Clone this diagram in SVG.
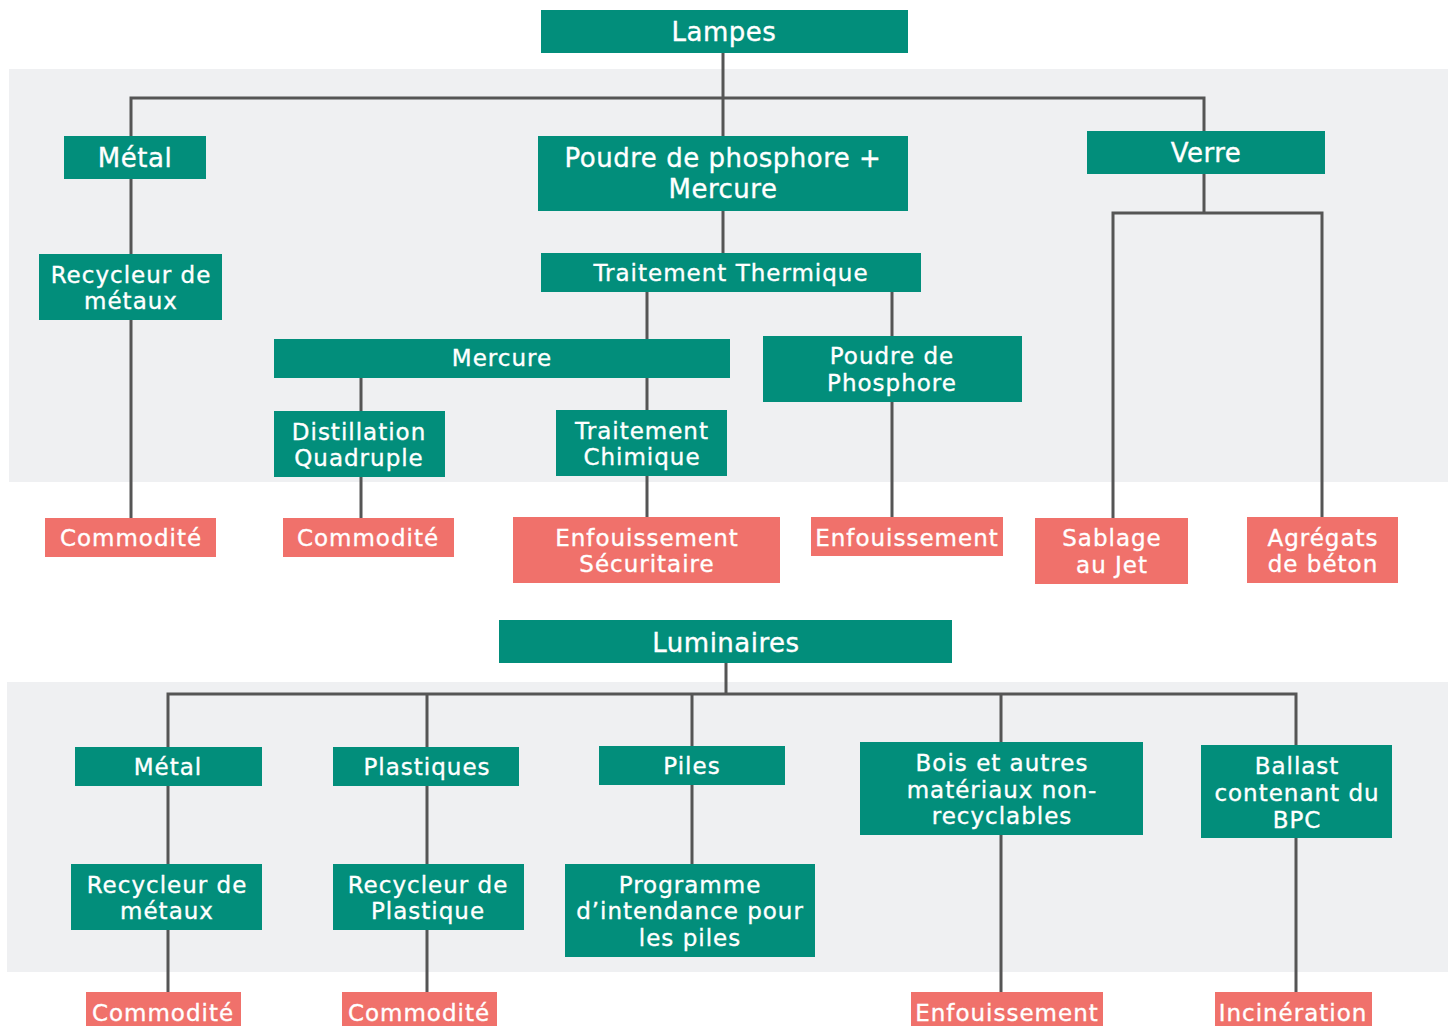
<svg xmlns="http://www.w3.org/2000/svg" width="1455" height="1026" viewBox="0 0 1455 1026">
<style>
.band{fill:#eff0f2}
.g rect{fill:#028e7b}
.r rect{fill:#f0716b}
text{font-family:"DejaVu Sans","Noto Sans",sans-serif;fill:#fff;stroke:#fff;stroke-width:0.35;text-anchor:middle;font-size:23px;letter-spacing:1px}
.big{font-size:26px;letter-spacing:0.5px}
#conn path{stroke:#555;stroke-width:3;fill:none;stroke-linecap:square}
</style>
<rect width="1455" height="1026" fill="#fff"/>
<rect class="band" x="9" y="69" width="1439" height="413"/>
<rect class="band" x="7" y="682" width="1441" height="290"/>
<g id="conn">
<path d="M723,54V136M131,98H1204M131,98V136M1204,98V131M131,180V254M131,320V518M723,211V253M647,292V339M892,292V336M361,378V411M647,378V410M361,477V518M647,476V517M892,402V517M1204,175V213M1113,213H1322M1113,213V518M1322,213V517"/>
<path d="M726,663V694M168,694H1296M168,694V747M427,694V747M692,694V746M1001,694V742M1296,694V745M168,786V864M168,930V992M427,786V864M427,930V992M692,785V864M1001,835V992M1296,838V992"/>
</g>
<g id="lampes" class="g"><rect x="541" y="10" width="367" height="43"/><text class="big" x="724" y="41">Lampes</text></g>
<g id="metal1" class="g"><rect x="64" y="136" width="142" height="43"/><text class="big" x="135" y="167">Métal</text></g>
<g id="poudre-mercure" class="g"><rect x="538" y="136" width="370" height="75"/><text class="big" x="723" y="167">Poudre de phosphore +</text><text class="big" x="723" y="198">Mercure</text></g>
<g id="verre" class="g"><rect x="1087" y="131" width="238" height="43"/><text class="big" x="1206" y="162">Verre</text></g>
<g id="recycleur-metaux1" class="g"><rect x="39" y="254" width="183" height="66"/><text x="131" y="283">Recycleur de</text><text x="131" y="309">métaux</text></g>
<g id="traitement-thermique" class="g"><rect x="541" y="253" width="380" height="39"/><text x="731" y="281">Traitement Thermique</text></g>
<g id="mercure" class="g"><rect x="274" y="339" width="456" height="39"/><text x="502" y="366">Mercure</text></g>
<g id="poudre-phosphore" class="g"><rect x="763" y="336" width="259" height="66"/><text x="892" y="364">Poudre de</text><text x="892" y="391">Phosphore</text></g>
<g id="distillation" class="g"><rect x="274" y="411" width="171" height="66"/><text x="359" y="440">Distillation</text><text x="359" y="466">Quadruple</text></g>
<g id="traitement-chimique" class="g"><rect x="556" y="410" width="171" height="66"/><text x="642" y="439">Traitement</text><text x="642" y="465">Chimique</text></g>
<g id="commodite1" class="r"><rect x="45" y="518" width="171" height="39"/><text x="131" y="546">Commodité</text></g>
<g id="commodite2" class="r"><rect x="283" y="518" width="171" height="39"/><text x="368" y="546">Commodité</text></g>
<g id="enfouissement-securitaire" class="r"><rect x="513" y="517" width="267" height="66"/><text x="647" y="546">Enfouissement</text><text x="647" y="572">Sécuritaire</text></g>
<g id="enfouissement1" class="r"><rect x="811" y="517" width="192" height="39"/><text x="907" y="546">Enfouissement</text></g>
<g id="sablage" class="r"><rect x="1035" y="518" width="153" height="66"/><text x="1112" y="546">Sablage</text><text x="1112" y="573">au Jet</text></g>
<g id="agregats" class="r"><rect x="1247" y="517" width="151" height="66"/><text x="1323" y="546">Agrégats</text><text x="1323" y="572">de béton</text></g>
<g id="luminaires" class="g"><rect x="499" y="620" width="453" height="43"/><text class="big" x="726" y="652">Luminaires</text></g>
<g id="metal2" class="g"><rect x="75" y="747" width="187" height="39"/><text x="168" y="775">Métal</text></g>
<g id="plastiques" class="g"><rect x="333" y="747" width="186" height="39"/><text x="427" y="775">Plastiques</text></g>
<g id="piles" class="g"><rect x="599" y="746" width="186" height="39"/><text x="692" y="774">Piles</text></g>
<g id="bois" class="g"><rect x="860" y="742" width="283" height="93"/><text x="1002" y="771">Bois et autres</text><text x="1002" y="798">matériaux non-</text><text x="1002" y="824">recyclables</text></g>
<g id="ballast" class="g"><rect x="1201" y="745" width="191" height="93"/><text x="1297" y="774">Ballast</text><text x="1297" y="801">contenant du</text><text x="1297" y="828">BPC</text></g>
<g id="recycleur-metaux2" class="g"><rect x="71" y="864" width="191" height="66"/><text x="167" y="893">Recycleur de</text><text x="167" y="919">métaux</text></g>
<g id="recycleur-plastique" class="g"><rect x="333" y="864" width="191" height="66"/><text x="428" y="893">Recycleur de</text><text x="428" y="919">Plastique</text></g>
<g id="programme" class="g"><rect x="565" y="864" width="250" height="93"/><text x="690" y="893">Programme</text><text x="690" y="919">d’intendance pour</text><text x="690" y="946">les piles</text></g>
<g id="commodite3" class="r"><rect x="86" y="992" width="155" height="34"/><text x="163" y="1021">Commodité</text></g>
<g id="commodite4" class="r"><rect x="342" y="992" width="155" height="34"/><text x="419" y="1021">Commodité</text></g>
<g id="enfouissement2" class="r"><rect x="911" y="992" width="192" height="34"/><text x="1007" y="1021">Enfouissement</text></g>
<g id="incineration" class="r"><rect x="1215" y="992" width="157" height="34"/><text x="1293" y="1021">Incinération</text></g>
</svg>
